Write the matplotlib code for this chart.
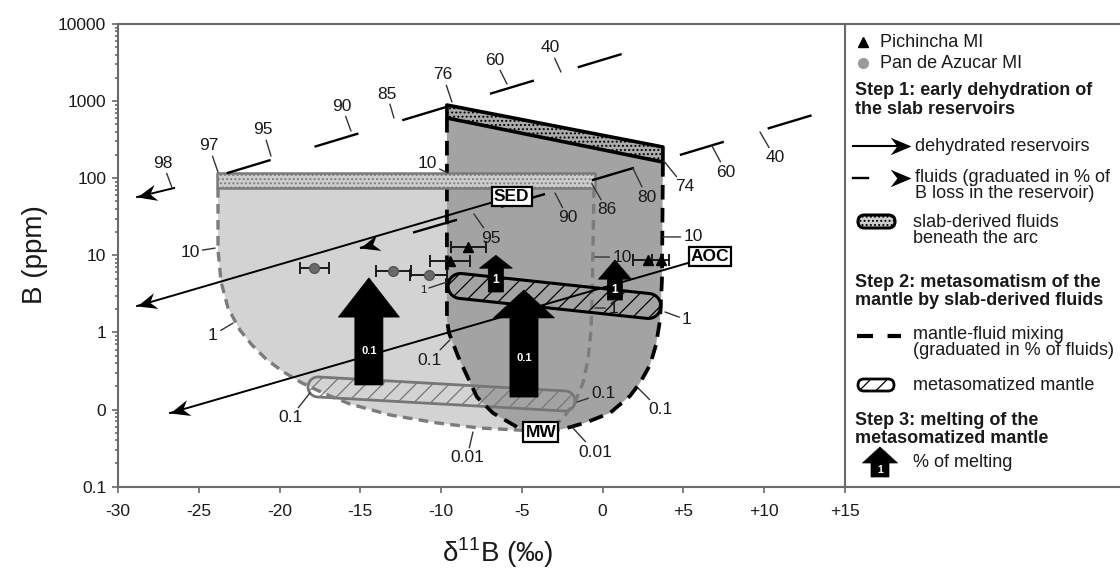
"""d11B vs B diagram: slab dehydration, mantle metasomatism and melting."""
import numpy as np
import matplotlib
matplotlib.use("Agg")
import matplotlib.pyplot as plt
from matplotlib.markers import MarkerStyle
from matplotlib.patches import FancyBboxPatch, Polygon
from matplotlib.path import Path
from matplotlib.ticker import LogLocator, NullFormatter
from matplotlib.transforms import Affine2D

plt.rcParams["font.family"] = ["Liberation Sans", "DejaVu Sans"]
plt.rcParams["mathtext.fontset"] = "custom"
plt.rcParams["mathtext.rm"] = "Liberation Sans"
plt.rcParams["lines.scale_dashes"] = False
plt.rcParams["hatch.linewidth"] = 0.9

# ---- end-members (d11B permil, B ppm) ----
SED = (-5.63, 57.5)
AOC = (6.64, 9.6)
MW = (-3.82, 0.051)

# ---- slab-derived fluid bands beneath the arc ----
sed_band_d = [-23.87, -0.47]
sed_band_top = [116.7, 116.7]
sed_band_bot = [74.6, 74.6]
aoc_band_d = [-9.64, 3.73]
aoc_band_top = [889, 254]
aoc_band_bot = [604, 162]

# ---- mantle-fluid mixing curves (fluid end -> MW) ----
sed_left_d = [-23.81, -23.81, -23.62, -23.19, -22.45, -21.71, -20.84, -19.85,
              -18.61, -17.18, -15.64, -13.17, -10.26, -7.59, -5.12, -3.82]
sed_left_b = [74.6, 11.7, 4.5, 2.07, 1.07, 0.687, 0.452, 0.316,
              0.221, 0.159, 0.118, 0.085, 0.067, 0.0575, 0.054, 0.051]
sed_right_d = [-0.54, -0.60, -0.66, -0.72, -0.91, -1.22, -1.71, -2.45, -3.13, -3.82]
sed_right_b = [74.6, 11.7, 2.63, 1.07, 0.438, 0.221, 0.125, 0.0776, 0.0575, 0.051]
aoc_left_d = [-9.64, -9.64, -9.51, -9.27, -8.96, -8.65, -8.22, -7.78, -6.79, -5.30, -3.82]
aoc_left_b = [604, 1.45, 0.98, 0.729, 0.494, 0.356, 0.228, 0.145, 0.090, 0.0593, 0.051]
aoc_right_d = [3.73, 3.67, 3.55, 3.30, 2.93, 2.31, 1.69, 0.45, -1.10, -2.45, -3.82]
aoc_right_b = [162, 4.8, 1.45, 0.687, 0.378, 0.221, 0.150, 0.090, 0.067, 0.0558, 0.051]

# ---- metasomatized mantle (capsule end centres, half width in decades) ----
meta_aoc_d = [-8.80, 2.83]
meta_aoc_b = [4.0, 2.2]
meta_aoc_half = 0.162
meta_sed_d = [-17.62, -2.33]
meta_sed_b = [0.196, 0.129]
meta_sed_half = 0.13

# ---- fluid paths (graduated in % of B loss) ----
fluid_top_d = [-23.27, 1.19]
fluid_top_b = [116, 4085]
fluid_aoc_d = [4.78, 13.01]
fluid_aoc_b = [200, 661]
fluid_sed_d = [-0.60, 1.87]
fluid_sed_b = [94.8, 135]
fluid_low_d = [-3.57, -15.02]
fluid_low_b = [62.4, 12.4]
fluid_98_d = [-26.53, -28.82]
fluid_98_b = [74.6, 57.0]

# ---- dehydrated reservoirs (arrow tips) ----
sed_dehyd_tip = (-28.82, 2.2)
aoc_dehyd_tip = (-26.78, 0.090)

# ---- melt inclusions ----
pan_d = [-17.85, -12.96, -10.78]
pan_b = [6.8, 6.3, 5.5]
pan_err = [0.88, 1.10, 1.17]
pich_d = [-8.31, -9.45, 2.82, 3.58]
pich_b = [12.8, 8.4, 8.6, 8.6]
pich_err = [1.08, 1.24, 0.94, 0.5]

# ---- % of melting arrows ----
melt_pct = ["0.1", "0.1", "1", "1"]
melt_d = [-14.47, -4.87, -6.61, 0.76]
melt_base = [0.208, 0.145, 3.34, 2.63]
melt_neck = [1.58, 1.54, 6.8, 4.9]
melt_tip = [5.1, 3.55, 10.0, 8.7]

# ---- graduation labels: text, label position, tick end ----
grad_text = ["98", "97", "95", "90", "85", "76", "60", "40",
             "74", "60", "40", "80", "86", "90", "95",
             "10", "1", "0.1", "10", "1", "0.1", "0.01",
             "10", "1", "0.1", "0.01", "10", "1", "0.1"]
grad_lab = [(-27.22, 157), (-24.37, 262), (-21.02, 422), (-16.14, 863),
            (-13.35, 1236), (-9.89, 2183), (-6.67, 3412), (-3.26, 4887),
            (5.09, 76.9), (7.63, 120), (10.67, 183), (2.74, 57.0),
            (0.27, 38.7), (-2.15, 30.5), (-6.92, 16.7),
            (-10.87, 157), (-11.12, 3.55), (-10.69, 0.438), (5.59, 17.3),
            (5.22, 1.45), (3.55, 0.0986), (-0.48, 0.0281),
            (-25.54, 11.0), (-24.12, 0.925), (-19.34, 0.0776), (-8.40, 0.0235),
            (1.19, 9.5), (0.64, 2.07), (0.04, 0.162)]
grad_tip = [(-26.65, 74.6), (-23.81, 120), (-20.53, 194), (-15.58, 409),
            (-12.92, 604), (-9.33, 973), (-5.92, 1667), (-2.58, 2383),
            (3.79, 167), (6.77, 262), (9.74, 397), (1.87, 135),
            (-0.66, 84.1), (-2.95, 64.3), (-7.97, 34.4),
            (-9.58, 117), (-9.64, 4.5), (-9.45, 0.80), (3.73, 17.3),
            (3.86, 1.84), (2.19, 0.190), (-1.84, 0.0575),
            (-23.99, 12.4), (-22.88, 1.32), (-18.12, 0.164), (-8.03, 0.051),
            (-0.48, 9.5), (-0.48, 2.07), (-1.59, 0.125)]

x_ticks = [-30, -25, -20, -15, -10, -5, 0, 5, 10, 15]
x_labels = ["-30", "-25", "-20", "-15", "-10", "-5", "0", "+5", "+10", "+15"]
y_ticks = [1e4, 1e3, 1e2, 10, 1, 0.1, 0.01]
y_labels = ["10000", "1000", "100", "10", "1", "0", "0.1"]

LIGHT = "#d3d3d3"
DARK = "#a3a3a3"
GREYLINE = "#7c7c7c"
SPINE = "#6a6a6a"
TXT = "#1a1a1a"

W, H = 1120.0, 573.0
AX_L, AX_R, AX_T, AX_B = 118, 845, 24, 486.6

fig = plt.figure(figsize=(W / 100, H / 100), dpi=100)
ax = fig.add_axes([AX_L / W, 1 - AX_B / H, (AX_R - AX_L) / W, (AX_B - AX_T) / H])
ax.set_xlim(-30, 15)
ax.set_yscale("log")
ax.set_ylim(0.01, 10000)
ax.set_xticks(x_ticks)
ax.set_xticklabels(x_labels)
ax.set_yticks(y_ticks)
ax.set_yticklabels(y_labels)
ax.yaxis.set_minor_locator(LogLocator(base=10, subs=np.arange(2, 10)))
ax.yaxis.set_minor_formatter(NullFormatter())
for s in ax.spines.values():
    s.set_color(SPINE)
    s.set_linewidth(1.5)
ax.tick_params(which="both", colors=SPINE, labelcolor=TXT, labelsize=12.5, width=1.2)
ax.tick_params(axis="x", direction="out", length=4.5, pad=8)
ax.tick_params(axis="y", which="major", direction="out", length=4.5, pad=4)
ax.tick_params(axis="y", which="minor", direction="out", length=2.5)

HEAD = Path([(0, 0), (-1, 0.42), (-0.68, 0), (-1, -0.42), (0, 0)],
            [Path.MOVETO, Path.LINETO, Path.LINETO, Path.LINETO, Path.CLOSEPOLY])


def arrow_head(axis, start, tip, size=28, z=6):
    p0 = axis.transData.transform(start)
    p1 = axis.transData.transform(tip)
    ang = np.degrees(np.arctan2(p1[1] - p0[1], p1[0] - p0[0]))
    m = MarkerStyle(HEAD, transform=Affine2D().rotate_deg(ang))
    axis.plot([tip[0]], [tip[1]], marker=m, ms=size, color="k", mew=0,
              ls="none", zorder=z, clip_on=False)


def capsule(p0, p1, half, n=24):
    """Stadium outline between two centres, round in screen space."""
    tr = ax.transData
    sx = tr.transform((1, 1))[0] - tr.transform((0, 1))[0]
    sy = tr.transform((0, 10))[1] - tr.transform((0, 1))[1]
    u0, v0 = p0[0] * sx, np.log10(p0[1]) * sy
    u1, v1 = p1[0] * sx, np.log10(p1[1]) * sy
    a = np.arctan2(v1 - v0, u1 - u0)
    r = half * sy
    t0 = np.linspace(a + np.pi / 2, a + 1.5 * np.pi, n)
    t1 = np.linspace(a - np.pi / 2, a + np.pi / 2, n)
    u = np.concatenate([u0 + r * np.cos(t0), u1 + r * np.cos(t1)])
    v = np.concatenate([v0 + r * np.sin(t0), v1 + r * np.sin(t1)])
    return np.column_stack([u / sx, 10 ** (v / sy)])


def block_arrow(c, base, neck, tip, sw, hw):
    return [(c - sw, base), (c - sw, neck), (c - hw, neck), (c, tip),
            (c + hw, neck), (c + sw, neck), (c + sw, base)]


# --- mixing fields ---------------------------------------------------------
ax.fill(sed_left_d + sed_right_d[::-1], sed_left_b + sed_right_b[::-1],
        color=LIGHT, lw=0, zorder=1)
ax.fill(aoc_left_d + aoc_right_d[::-1], aoc_left_b + aoc_right_b[::-1],
        color=DARK, lw=0, zorder=2)

# metasomatized mantle from SED fluids (no fill, sits over both fields)
ax.add_patch(Polygon(capsule((meta_sed_d[0], meta_sed_b[0]),
                             (meta_sed_d[1], meta_sed_b[1]), meta_sed_half),
                     closed=True, fc="none", ec="#767676", lw=2.0, hatch="//",
                     zorder=3))

for d, b in ((sed_left_d, sed_left_b), (sed_right_d, sed_right_b)):
    ax.plot(d, b, color=GREYLINE, lw=2.4, dashes=(7, 4.5), zorder=4)
for d, b in ((aoc_left_d, aoc_left_b), (aoc_right_d, aoc_right_b)):
    ax.plot(d, b, color="k", lw=2.7, dashes=(10.5, 6), zorder=4)

# --- slab-derived fluid bands ---------------------------------------------
ax.add_patch(Polygon([(sed_band_d[0], sed_band_top[0]), (sed_band_d[1], sed_band_top[1]),
                      (sed_band_d[1], sed_band_bot[1]), (sed_band_d[0], sed_band_bot[0])],
                     closed=True, fc="#cdcdcd", ec="#7a7a7a", lw=1.8, hatch="....",
                     joinstyle="round", zorder=5))
ax.add_patch(Polygon([(aoc_band_d[0], aoc_band_top[0]), (aoc_band_d[1], aoc_band_top[1]),
                      (aoc_band_d[1], aoc_band_bot[1]), (aoc_band_d[0], aoc_band_bot[0])],
                     closed=True, fc="#ababab", ec="k", lw=2.6, hatch="....",
                     joinstyle="round", zorder=5))

# metasomatized mantle from AOC fluids
ax.add_patch(Polygon(capsule((meta_aoc_d[0], meta_aoc_b[0]),
                             (meta_aoc_d[1], meta_aoc_b[1]), meta_aoc_half),
                     closed=True, fc="none", ec="k", lw=2.2, hatch="//", zorder=5))

# --- dehydration and fluid paths ------------------------------------------
for start, tip in ((SED, sed_dehyd_tip), (AOC, aoc_dehyd_tip)):
    ax.plot([start[0], tip[0]], [start[1], tip[1]], color="k", lw=1.4, zorder=6)
    arrow_head(ax, start, tip)

for d, b in ((fluid_top_d, fluid_top_b), (fluid_aoc_d, fluid_aoc_b),
             (fluid_low_d, fluid_low_b)):
    ax.plot(d, b, color="k", lw=1.7, dashes=(33, 33), zorder=6)
ax.plot(fluid_sed_d, fluid_sed_b, color="k", lw=1.7, zorder=6)
arrow_head(ax, (fluid_low_d[0], fluid_low_b[0]), (fluid_low_d[1], fluid_low_b[1]))
ax.plot(fluid_98_d, fluid_98_b, color="k", lw=1.4, zorder=6)
arrow_head(ax, (fluid_98_d[0], fluid_98_b[0]), (fluid_98_d[1], fluid_98_b[1]))

# --- melting arrows --------------------------------------------------------
for pct, c, b0, b1, b2 in zip(melt_pct, melt_d, melt_base, melt_neck, melt_tip):
    big = pct == "0.1"
    sw, hw = (0.87, 1.89) if big else (0.47, 1.02)
    ax.add_patch(Polygon(block_arrow(c, b0, b1, b2, sw, hw), closed=True,
                         fc="k", ec="k", lw=0.5, zorder=7))
    ax.text(c, np.sqrt(b0 * b1), pct, color="white", fontsize=8 if big else 8.5,
            fontweight="bold", ha="center", va="center", zorder=7.5)

# --- melt inclusions -------------------------------------------------------
ax.errorbar(pan_d, pan_b, xerr=pan_err, fmt="o", ms=7, color="#6a6a6a",
            mec="#555555", ecolor="#1a1a1a", elinewidth=1.4, capsize=4,
            capthick=1.4, zorder=8)
ax.errorbar(pich_d, pich_b, xerr=pich_err, fmt="^", ms=7, color="k",
            ecolor="#1a1a1a", elinewidth=1.4, capsize=4, capthick=1.4, zorder=8)

# --- graduations ----------------------------------------------------------
for txt, lab, tip in zip(grad_text, grad_lab, grad_tip):
    small = txt == "1" and tip == (-9.64, 4.5)
    ax.annotate(txt, xy=tip, xytext=lab, ha="center", va="center",
                fontsize=8 if small else 12.5, color=TXT, zorder=9,
                arrowprops=dict(arrowstyle="-", color="#333333", lw=1.0,
                                shrinkA=0, shrinkB=0))

# --- reservoir boxes -------------------------------------------------------
for name, pos in (("SED", SED), ("AOC", AOC), ("MW", MW)):
    ax.text(pos[0], pos[1], name, ha="center", va="center", fontsize=12.5,
            fontweight="bold", color="k", zorder=10,
            bbox=dict(boxstyle="square,pad=0.12", fc="white", ec="k", lw=1.6))

fig.text(35 / W, 1 - 255 / H, "B (ppm)", rotation=90, ha="center",
         va="center", fontsize=20, color=TXT)
fig.text(497 / W, 1 - 553 / H, r"δ$^{\mathrm{11}}$B (‰)", ha="center",
         va="center", fontsize=20, color=TXT)

# --- legend panel ----------------------------------------------------------
lax = fig.add_axes([AX_R / W, 1 - AX_B / H, (W - AX_R) / W, (AX_B - AX_T) / H])
lax.set_xlim(AX_R, W)
lax.set_ylim(AX_B, AX_T)
lax.set_xticks([])
lax.set_yticks([])
lax.patch.set_alpha(0)
for side in ("left", "right"):
    lax.spines[side].set_visible(False)
for side in ("top", "bottom"):
    lax.spines[side].set_color(SPINE)
    lax.spines[side].set_linewidth(1.5)

LFS = 13
lax.plot([863], [42], marker="^", ms=7, color="k", ls="none")
lax.plot([863], [63], marker="o", ms=7, color="#9a9a9a", ls="none")
plain = [("Pichincha MI", 880, 42), ("Pan de Azucar MI", 880, 63),
         ("dehydrated reservoirs", 915, 146),
         ("fluids (graduated in % of", 915, 177), ("B loss in the reservoir)", 915, 193),
         ("slab-derived fluids", 913, 222), ("beneath the arc", 913, 238),
         ("mantle-fluid mixing", 913, 334), ("(graduated in % of fluids)", 913, 350),
         ("metasomatized mantle", 913, 385), ("% of melting", 913, 462)]
bold = [("Step 1: early dehydration of", 855, 90), ("the slab reservoirs", 855, 109),
        ("Step 2: metasomatism of the", 855, 282), ("mantle by slab-derived fluids", 855, 300),
        ("Step 3: melting of the", 855, 420), ("metasomatized mantle", 855, 438)]
for txt, x, y in plain:
    lax.text(x, y, txt, fontsize=LFS, color=TXT, ha="left", va="center")
for txt, x, y in bold:
    lax.text(x, y, txt, fontsize=LFS, color=TXT, ha="left", va="center",
             fontweight="bold")

lax.plot([853, 905], [146, 146], color="k", lw=1.5)
arrow_head(lax, (853, 146), (911, 146), size=30)
lax.plot([853, 868], [178, 178], color="k", lw=1.7)
arrow_head(lax, (853, 178), (911, 178), size=30)
lax.add_patch(FancyBboxPatch((858, 215), 37, 13,
                             boxstyle="round,pad=0,rounding_size=6.5",
                             fc="#cdcdcd", ec="k", lw=2.2, hatch="...."))
lax.plot([857, 901], [336, 336], color="k", lw=3, dashes=(11.5, 10.5))
lax.add_patch(FancyBboxPatch((858, 379), 36, 12,
                             boxstyle="round,pad=0,rounding_size=6",
                             fc="none", ec="k", lw=2.0, hatch="//"))
lax.add_patch(Polygon(block_arrow(880, 477, 463, 447, 9, 17.5), closed=True,
                      fc="k", ec="k", lw=0.5))
lax.text(880, 470, "1", color="white", fontsize=7.5, fontweight="bold",
         ha="center", va="center")

fig.savefig("out.png", dpi=100)
